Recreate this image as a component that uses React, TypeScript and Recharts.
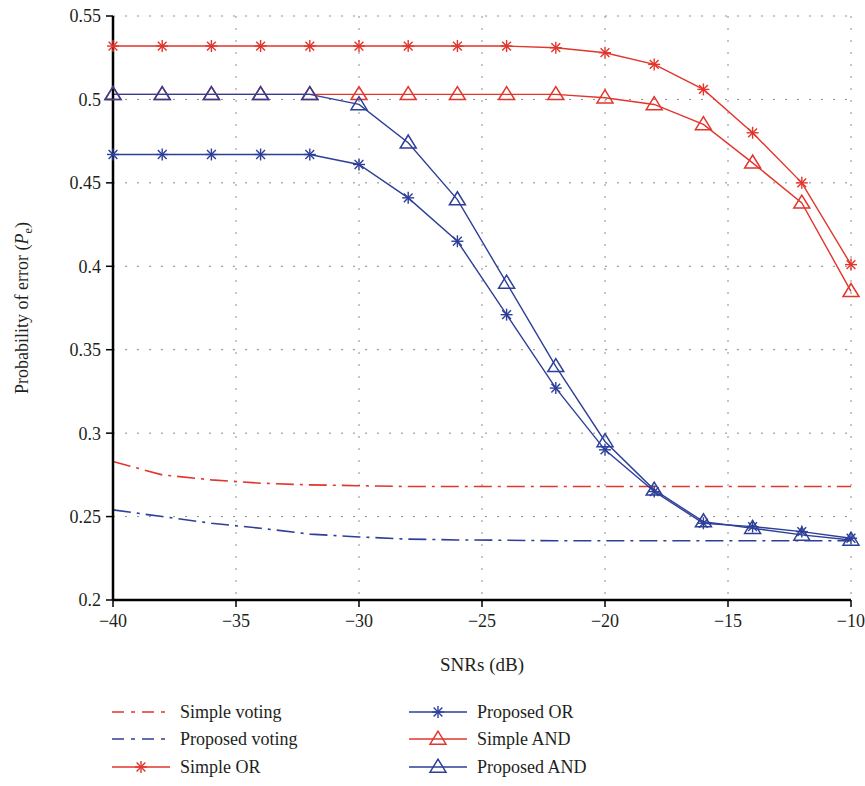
import React from "react";
import { LineChart, Line, XAxis, YAxis, CartesianGrid } from "recharts";

const RED = "#E2352C";
const BLUE = "#2D3F98";
const INK = "#231f20";
const FONT = "'Liberation Serif', 'DejaVu Serif', serif";

// SNR points (dB)
const SNR = [-40, -38, -36, -34, -32, -30, -28, -26, -24, -22, -20, -18, -16, -14, -12, -10];

const simpleVoting = [0.283, 0.275, 0.272, 0.27, 0.269, 0.2685, 0.268, 0.268, 0.268, 0.268, 0.268, 0.268, 0.268, 0.268, 0.268, 0.268];
const proposedVoting = [0.254, 0.25, 0.246, 0.243, 0.2395, 0.2378, 0.2365, 0.236, 0.2358, 0.2355, 0.2355, 0.2355, 0.2355, 0.2355, 0.2355, 0.2355];
const simpleOR = [0.532, 0.532, 0.532, 0.532, 0.532, 0.532, 0.532, 0.532, 0.532, 0.531, 0.528, 0.521, 0.506, 0.48, 0.45, 0.401];
const proposedOR = [0.467, 0.467, 0.467, 0.467, 0.467, 0.461, 0.441, 0.415, 0.371, 0.327, 0.29, 0.265, 0.246, 0.244, 0.241, 0.237];
const simpleAND = [0.503, 0.503, 0.503, 0.503, 0.503, 0.503, 0.503, 0.503, 0.503, 0.503, 0.501, 0.497, 0.485, 0.462, 0.438, 0.385];
const proposedAND = [0.503, 0.503, 0.503, 0.503, 0.503, 0.497, 0.474, 0.44, 0.39, 0.34, 0.295, 0.266, 0.247, 0.243, 0.239, 0.236];

const X_TICKS = [-40, -35, -30, -25, -20, -15, -10];
const Y_TICKS = [0.2, 0.25, 0.3, 0.35, 0.4, 0.45, 0.5, 0.55];

const data = SNR.map((snr, i) => ({
  snr,
  sv: simpleVoting[i],
  pv: proposedVoting[i],
  sor: simpleOR[i],
  por: proposedOR[i],
  sand: simpleAND[i],
  pand: proposedAND[i],
}));

const DASH_DOT = "18 6 3 6";

function Star({ cx, cy, color }: { cx: number; cy: number; color: string }) {
  const r = 6;
  const d = 4.4;
  return (
    <g stroke={color} strokeWidth={1.4}>
      <line x1={cx} y1={cy - r} x2={cx} y2={cy + r} />
      <line x1={cx - r} y1={cy} x2={cx + r} y2={cy} />
      <line x1={cx - d} y1={cy - d} x2={cx + d} y2={cy + d} />
      <line x1={cx - d} y1={cy + d} x2={cx + d} y2={cy - d} />
    </g>
  );
}

function Tri({ cx, cy, color }: { cx: number; cy: number; color: string }) {
  const w = 8;
  const h = 13;
  return (
    <polygon
      points={`${cx},${cy - h * 0.6} ${cx - w},${cy + h * 0.4} ${cx + w},${cy + h * 0.4}`}
      fill="none"
      stroke={color}
      strokeWidth={1.5}
    />
  );
}

const starDot = (color: string) => (p: any) =>
  p.cx == null ? <g key={p.key ?? p.index} /> : <Star key={p.key ?? p.index} cx={p.cx} cy={p.cy} color={color} />;
const triDot = (color: string) => (p: any) =>
  p.cx == null ? <g key={p.key ?? p.index} /> : <Tri key={p.key ?? p.index} cx={p.cx} cy={p.cy} color={color} />;

const fmtX = (v: number) => (v < 0 ? "\u2212" + Math.abs(v) : String(v));

const legendItems = [
  { label: "Simple voting", color: RED, dash: true, marker: null, col: 0, row: 0 },
  { label: "Proposed voting", color: BLUE, dash: true, marker: null, col: 0, row: 1 },
  { label: "Simple OR", color: RED, dash: false, marker: "star", col: 0, row: 2 },
  { label: "Proposed OR", color: BLUE, dash: false, marker: "star", col: 1, row: 0 },
  { label: "Simple AND", color: RED, dash: false, marker: "tri", col: 1, row: 1 },
  { label: "Proposed AND", color: BLUE, dash: false, marker: "tri", col: 1, row: 2 },
];

export default function App() {
  return (
    <div style={{ position: "absolute", left: 0, top: 0, width: 865, height: 786, background: "#fff", fontFamily: FONT }}>
      <LineChart width={865} height={786} data={data} margin={{ top: 16, right: 14, left: 0, bottom: 0 }}>
        <CartesianGrid stroke="#8c8c8c" strokeDasharray="2 10" strokeWidth={1} />
        <XAxis
          dataKey="snr"
          type="number"
          domain={[-40, -10]}
          ticks={X_TICKS}
          tickFormatter={fmtX}
          height={186}
          axisLine={{ stroke: "#000", strokeWidth: 2.5 }}
          tickLine={{ stroke: "#000", strokeWidth: 1.5 }}
          tickSize={7}
          tickMargin={7}
          tick={{ fill: INK, fontSize: 18, fontFamily: FONT }}
          label={{
            content: (props: any) => {
              const vb = props.viewBox;
              return (
                <text x={vb.x + vb.width / 2} y={vb.y + 71} textAnchor="middle" fill={INK} fontSize={19} fontFamily={FONT}>
                  SNRs (dB)
                </text>
              );
            },
          }}
        />
        <XAxis xAxisId="top" dataKey="snr" type="number" domain={[-40, -10]} orientation="top" height={0} tick={false} tickLine={false} axisLine={{ stroke: "#000", strokeWidth: 2.5 }} />
        <YAxis
          type="number"
          domain={[0.2, 0.55]}
          ticks={Y_TICKS}
          width={113}
          axisLine={{ stroke: "#000", strokeWidth: 2.5 }}
          tickLine={{ stroke: "#000", strokeWidth: 1.5 }}
          tickSize={7}
          tickMargin={5}
          tick={{ fill: INK, fontSize: 18, fontFamily: FONT }}
          label={{
            content: (props: any) => {
              const vb = props.viewBox;
              const cx = 28;
              const cy = vb.y + vb.height / 2;
              return (
                <text x={cx} y={cy} transform={`rotate(-90 ${cx} ${cy})`} textAnchor="middle" fill={INK} fontSize={18} fontFamily={FONT}>
                  Probability of error (<tspan fontStyle="italic">P</tspan>
                  <tspan fontSize={12} fontStyle="normal" dy={4}>e</tspan>
                  <tspan dy={-4}>)</tspan>
                </text>
              );
            },
          }}
        />
        <YAxis yAxisId="right" type="number" domain={[0.2, 0.55]} orientation="right" width={0} tick={false} tickLine={false} axisLine={{ stroke: "#000", strokeWidth: 2.5 }} />

        <Line dataKey="sv" stroke={RED} strokeWidth={1.6} strokeDasharray={DASH_DOT} dot={false} isAnimationActive={false} />
        <Line dataKey="pv" stroke={BLUE} strokeWidth={1.6} strokeDasharray={DASH_DOT} dot={false} isAnimationActive={false} />
        <Line dataKey="sor" stroke={RED} strokeWidth={1.4} dot={starDot(RED)} isAnimationActive={false} />
        <Line dataKey="por" stroke={BLUE} strokeWidth={1.4} dot={starDot(BLUE)} isAnimationActive={false} />
        <Line dataKey="sand" stroke={RED} strokeWidth={1.4} dot={triDot(RED)} isAnimationActive={false} />
        <Line dataKey="pand" stroke={BLUE} strokeWidth={1.4} dot={triDot(BLUE)} isAnimationActive={false} />
      </LineChart>

      {legendItems.map((it) => {
        const left = it.col === 0 ? 112 : 409;
        const top = [712, 739, 767][it.row] - 10;
        return (
          <div key={it.label} style={{ position: "absolute", left, top, height: 20, display: "flex", alignItems: "center" }}>
            <svg width={58} height={20} style={{ display: "block" }}>
              <line x1={0} y1={10} x2={58} y2={10} stroke={it.color} strokeWidth={1.6} strokeDasharray={it.dash ? "12 7 4 7" : undefined} />
              {it.marker === "star" && <Star cx={29} cy={10} color={it.color} />}
              {it.marker === "tri" && <Tri cx={29} cy={10} color={it.color} />}
            </svg>
            <span style={{ marginLeft: 10, fontSize: 18, color: INK, whiteSpace: "nowrap", lineHeight: "20px" }}>{it.label}</span>
          </div>
        );
      })}
    </div>
  );
}
